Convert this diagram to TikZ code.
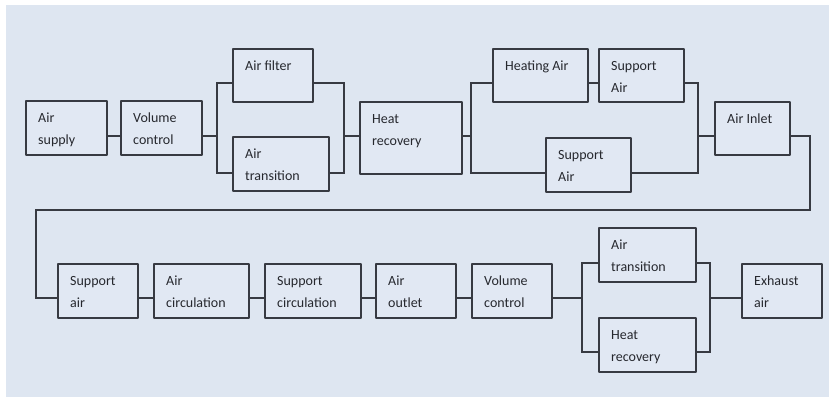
\documentclass[tikz,border=0pt]{standalone}
\usepackage{fontspec}
\setmainfont{Carlito}
\usepackage{tikz}
\definecolor{bgc}{RGB}{222,230,241}
\definecolor{boxc}{RGB}{225,232,243}
\definecolor{lnc}{RGB}{55,58,66}
\definecolor{txc}{RGB}{38,40,46}
\tikzset{
  blk/.style={draw=lnc,line width=1.5bp,fill=boxc,rectangle,inner sep=0pt,anchor=north west},
  txt/.style={anchor=north west,align=left,inner sep=0pt,xshift=13bp,yshift=-7bp,
    text=txc,font=\fontsize{14bp}{22bp}\selectfont},
  wire/.style={draw=lnc,line width=1.9bp,line join=miter},
}

\begin{document}
\begin{tikzpicture}[x=1bp,y=-1bp,line join=bevel,]
%%
\useasboundingbox (0,0) rectangle (831,399);
\fill [bgc] (6,5) rectangle (829,397);
%% upper row
\node (sup) at (25,100) [blk,minimum width=81bp,minimum height=54bp,label={[txt]north west:\strut Air\\supply}] {};
  \node (vc1) at (120,100) [blk,minimum width=81bp,minimum height=54bp,label={[txt]north west:\strut Volume\\control}] {};
  \node (fil) at (232,48) [blk,minimum width=80bp,minimum height=53bp,label={[txt]north west:\strut Air filter}] {};
  \node (trn1) at (232,136) [blk,minimum width=96bp,minimum height=54bp,label={[txt]north west:\strut Air\\transition}] {};
  \node (hr1) at (359,101) [blk,minimum width=102bp,minimum height=72bp,label={[txt]north west:\strut Heat\\recovery}] {};
  \node (hta) at (492,48) [blk,minimum width=95bp,minimum height=53bp,label={[txt]north west:\strut Heating Air}] {};
  \node (spa1) at (598,48) [blk,minimum width=85bp,minimum height=53bp,label={[txt]north west:\strut Support\\Air}] {};
  \node (spa2) at (545,137) [blk,minimum width=85bp,minimum height=54bp,label={[txt]north west:\strut Support\\Air}] {};
  \node (inl) at (714,101) [blk,minimum width=75bp,minimum height=53bp,label={[txt]north west:\strut Air Inlet}] {};
%% lower row
  \node (spa3) at (57,263) [blk,minimum width=80bp,minimum height=54bp,label={[txt]north west:\strut Support\\air}] {};
  \node (circ) at (153,263) [blk,minimum width=95bp,minimum height=54bp,label={[txt]north west:\strut Air\\circulation}] {};
  \node (scirc) at (264,263) [blk,minimum width=96bp,minimum height=54bp,label={[txt]north west:\strut Support\\circulation}] {};
  \node (outl) at (375,263) [blk,minimum width=80bp,minimum height=54bp,label={[txt]north west:\strut Air\\outlet}] {};
  \node (vc2) at (471,263) [blk,minimum width=80bp,minimum height=54bp,label={[txt]north west:\strut Volume\\control}] {};
  \node (trn2) at (598,227) [blk,minimum width=97bp,minimum height=54bp,label={[txt]north west:\strut Air\\transition}] {};
  \node (hr2) at (598,317) [blk,minimum width=97bp,minimum height=54bp,label={[txt]north west:\strut Heat\\recovery}] {};
  \node (exh) at (741,263) [blk,minimum width=80bp,minimum height=54bp,label={[txt]north west:\strut Exhaust\\air}] {};
%% junctions
  \coordinate (s1) at (217,136);  \coordinate (s1t) at (217,83);  \coordinate (s1b) at (217,173);
  \coordinate (m1) at (344,136);  \coordinate (m1t) at (344,83);  \coordinate (m1b) at (344,173);
  \coordinate (s2) at (471,136);  \coordinate (s2t) at (471,83);  \coordinate (s2b) at (471,173);
  \coordinate (m2) at (698,136);  \coordinate (m2t) at (698,83);  \coordinate (m2b) at (698,173);
  \coordinate (rt) at (810,210);  \coordinate (lt) at (36,298);
  \coordinate (s3) at (582,298);  \coordinate (s3t) at (582,263);  \coordinate (s3b) at (582,352);
  \coordinate (m3) at (710,298);  \coordinate (m3t) at (710,263);  \coordinate (m3b) at (710,352);
%% connectors
  \draw [wire] (sup.east |- s1) -- (vc1.west |- s1);
  \draw [wire] (vc1.east |- s1) -- (s1);
  \draw [wire] (fil.west |- s1t) -- (s1t) -- (s1b) -- (trn1.west |- s1b);
  \draw [wire] (fil.east |- m1t) -- (m1t) -- (m1b) -- (trn1.east |- m1b);
  \draw [wire] (m1) -- (hr1.west |- m1);
  \draw [wire] (hr1.east |- s2) -- (s2);
  \draw [wire] (hta.west |- s2t) -- (s2t) -- (s2b) -- (spa2.west |- s2b);
  \draw [wire] (hta.east |- s2t) -- (spa1.west |- s2t);
  \draw [wire] (spa1.east |- m2t) -- (m2t) -- (m2b) -- (spa2.east |- m2b);
  \draw [wire] (m2) -- (inl.west |- m2);
  \draw [wire] (inl.east |- m2) -| (rt) -| (lt) -- (spa3.west |- lt);
  \draw [wire] (spa3.east |- s3) -- (circ.west |- s3);
  \draw [wire] (circ.east |- s3) -- (scirc.west |- s3);
  \draw [wire] (scirc.east |- s3) -- (outl.west |- s3);
  \draw [wire] (outl.east |- s3) -- (vc2.west |- s3);
  \draw [wire] (vc2.east |- s3) -- (s3);
  \draw [wire] (trn2.west |- s3t) -- (s3t) -- (s3b) -- (hr2.west |- s3b);
  \draw [wire] (trn2.east |- m3t) -- (m3t) -- (m3b) -- (hr2.east |- m3b);
  \draw [wire] (m3) -- (exh.west |- m3);
%
\end{tikzpicture}
\end{document}
